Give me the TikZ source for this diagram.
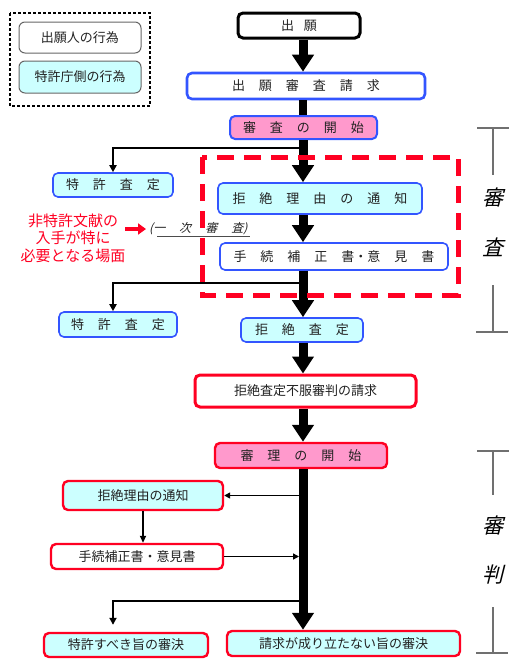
\documentclass[tikz,border=0pt]{standalone}
\usepackage{fontspec}
\setmainfont{Noto Sans CJK JP}
\newfontfamily\slfont[FakeSlant=0.25]{Noto Sans CJK JP}
\usetikzlibrary{arrows.meta,calc}
\definecolor{boxcyan}{HTML}{CCFFFF}
\definecolor{boxpink}{HTML}{FF99CC}
\definecolor{boxblue}{HTML}{3355FF}
\definecolor{boxred}{HTML}{FF0022}
\definecolor{brgray}{HTML}{707070}
\definecolor{txt}{HTML}{222222}
\newcommand\gp{\hspace{14pt}}
\begin{document}
\begin{tikzpicture}[x=1pt,y=-1pt,
  bx/.style={rounded corners=5pt, inner sep=0pt, text=txt, font=\fontsize{13}{15}\selectfont},
  bluebox/.style={bx, draw=boxblue, line width=1.6pt},
  redbox/.style={bx, draw=boxred, line width=2.4pt},
  bigarrow/.style={line width=9pt, -{Triangle[width=21pt,length=17pt]}},
  bigline/.style={line width=8pt},
  smallarrow/.style={line width=1.8pt, -{Triangle[width=7pt,length=7pt]}},
  brline/.style={draw=brgray, line width=1.3pt},
  biglabel/.style={font=\slfont\fontsize{21}{24}\selectfont, inner sep=0pt},
]
\useasboundingbox (0,0) rectangle (526,670);

% legend
\draw[dashed, line width=1.3pt, dash pattern=on 3pt off 2pt] (10,13) rectangle (150,106);
\node[bx, draw=black!60, line width=1pt, fill=white, rounded corners=6pt, minimum width=122pt, minimum height=31pt] (leg1) at (80,37.5) {出願人の行為};
\node[bx, draw=black!60, line width=1pt, fill=boxcyan, rounded corners=6pt, minimum width=122pt, minimum height=32pt] (leg2) at (80,77) {特許庁側の行為};

\coordinate (trunk) at (303,0);

% examination part
\node[bx, draw=black, line width=3pt, fill=white, minimum width=122pt, minimum height=25pt] (shutsugan) at (299,25.5) {出\hspace{10pt}願};
\node[bx, draw=boxblue, line width=2.6pt, fill=white, minimum width=238pt, minimum height=26pt] (seikyu) at (306,86) {出\gp 願\gp 審\gp 査\gp 請\gp 求};
\node[bluebox, line width=2pt, fill=boxpink, minimum width=147pt, minimum height=23pt] (kaishi) at (303.5,127.5) {審\gp 査\gp の\gp 開\gp 始};
\node[bluebox, fill=boxcyan, minimum width=120pt, minimum height=24pt] (tokkyoA) at (113,185) {特\gp 許\gp 査\gp 定};
\node[bluebox, fill=boxcyan, minimum width=204pt, minimum height=31pt] (tsuchiA) at (320,198.5) {拒\gp 絶\gp 理\gp 由\gp の\gp 通\gp 知};
\node[bluebox, fill=white, minimum width=228pt, minimum height=27pt] (tetsuA) at (334,256.5) {手\gp 続\gp 補\gp 正\gp 書・意\gp 見\gp 書};
\node[bluebox, fill=boxcyan, minimum width=118pt, minimum height=25pt] (tokkyoB) at (118,324.5) {特\gp 許\gp 査\gp 定};
\node[bluebox, fill=boxcyan, minimum width=122pt, minimum height=24pt] (satei) at (302,330) {拒\gp 絶\gp 査\gp 定};

\draw[bigarrow] (shutsugan.south -| trunk) -- (seikyu.north -| trunk);
\draw[bigline] (seikyu.south -| trunk) -- (kaishi.north -| trunk);
\draw[bigarrow] (kaishi.south -| trunk) -- (tsuchiA.north -| trunk);
\draw[bigarrow] (tsuchiA.south -| trunk) -- (tetsuA.north -| trunk);
\draw[bigarrow] (tetsuA.south -| trunk) -- (satei.north -| trunk);

\coordinate (brA) at (300,148);
\coordinate (brB) at (300,283);
\draw[smallarrow] (brA) -| (tokkyoA.north);
\draw[smallarrow] (brB) -| ([xshift=-5pt]tokkyoB.north);

% red dashed region and note
\draw[boxred, line width=5pt, dash pattern=on 17pt off 10pt] (202,157) rectangle (458,295);
\node[text=boxred, align=center, inner sep=0pt, font=\fontsize{15}{17.5}\selectfont] (note) at (73,238) {非特許文献の\\入手が特に\\必要となる場面};
\coordinate (noteA) at (125,229);
\coordinate (noteB) at (146,229);
\draw[boxred, line width=4pt, -{Triangle[width=11pt,length=8pt]}] (noteA) -- (noteB);
\node[inner sep=0pt, text=txt, font=\slfont\fontsize{12}{14}\selectfont, anchor=west] (ichiji) at (149,229) {(一\gp 次\gp 審\gp 査)};
\draw[black!70, line width=0.9pt] (157,236) -- (250,236);

% trial part
\node[redbox, fill=white, line width=3pt, minimum width=221pt, minimum height=32pt] (fufuku) at (305.5,391) {拒絶査定不服審判の請求};
\node[redbox, fill=boxpink, minimum width=172pt, minimum height=25pt] (shinri) at (301,455.5) {審\gp 理\gp の\gp 開\gp 始};
\node[redbox, fill=boxcyan, minimum width=160pt, minimum height=29pt] (tsuchiB) at (143,495.5) {拒絶理由の通知};
\node[redbox, fill=white, minimum width=172pt, minimum height=25pt] (tetsuB) at (137,556.5) {手続補正書・意見書};
\node[redbox, fill=boxcyan, minimum width=164pt, minimum height=24pt] (shinketsuA) at (126,645) {特許すべき旨の審決};
\node[redbox, fill=boxcyan, minimum width=233pt, minimum height=25pt] (shinketsuB) at (343.5,643.5) {請求が成り立たない旨の審決};

\draw[bigarrow] (satei.south -| trunk) -- (fufuku.north -| trunk);
\draw[bigarrow] (fufuku.south -| trunk) -- (shinri.north -| trunk);
\draw[bigarrow] (shinri.south -| trunk) -- (shinketsuB.north -| trunk);

\coordinate (brC) at (300,601);
\draw[smallarrow, -{Triangle[width=6pt,length=6pt]}] (tsuchiB.east -| 300,0) -- (tsuchiB.east);
\draw[smallarrow, -{Triangle[width=6pt,length=7pt]}] (tsuchiB.south) -- (tsuchiB.south |- tetsuB.north);
\draw[smallarrow, -{Triangle[width=6pt,length=6pt]}] (tetsuB.east) -- (tetsuB.east -| 299,0);
\draw[smallarrow, shorten >=7pt] (brC) -| ([xshift=-13pt]shinketsuA.north);

% right-hand brackets
\draw[brline] (477,128) -- (509,128) (493,128) -- (493,175) (493,285) -- (493,332) (476,332) -- (508,332);
\node[biglabel] (shinsa1) at (493,197) {審};
\node[biglabel] (shinsa2) at (493,247) {査};
\draw[brline] (477,451) -- (509,451) (493,451) -- (493,495) (493,607) -- (493,653) (476,653) -- (508,653);
\node[biglabel] (shinpan1) at (493,525) {審};
\node[biglabel] (shinpan2) at (493,575) {判};
\end{tikzpicture}
\end{document}
